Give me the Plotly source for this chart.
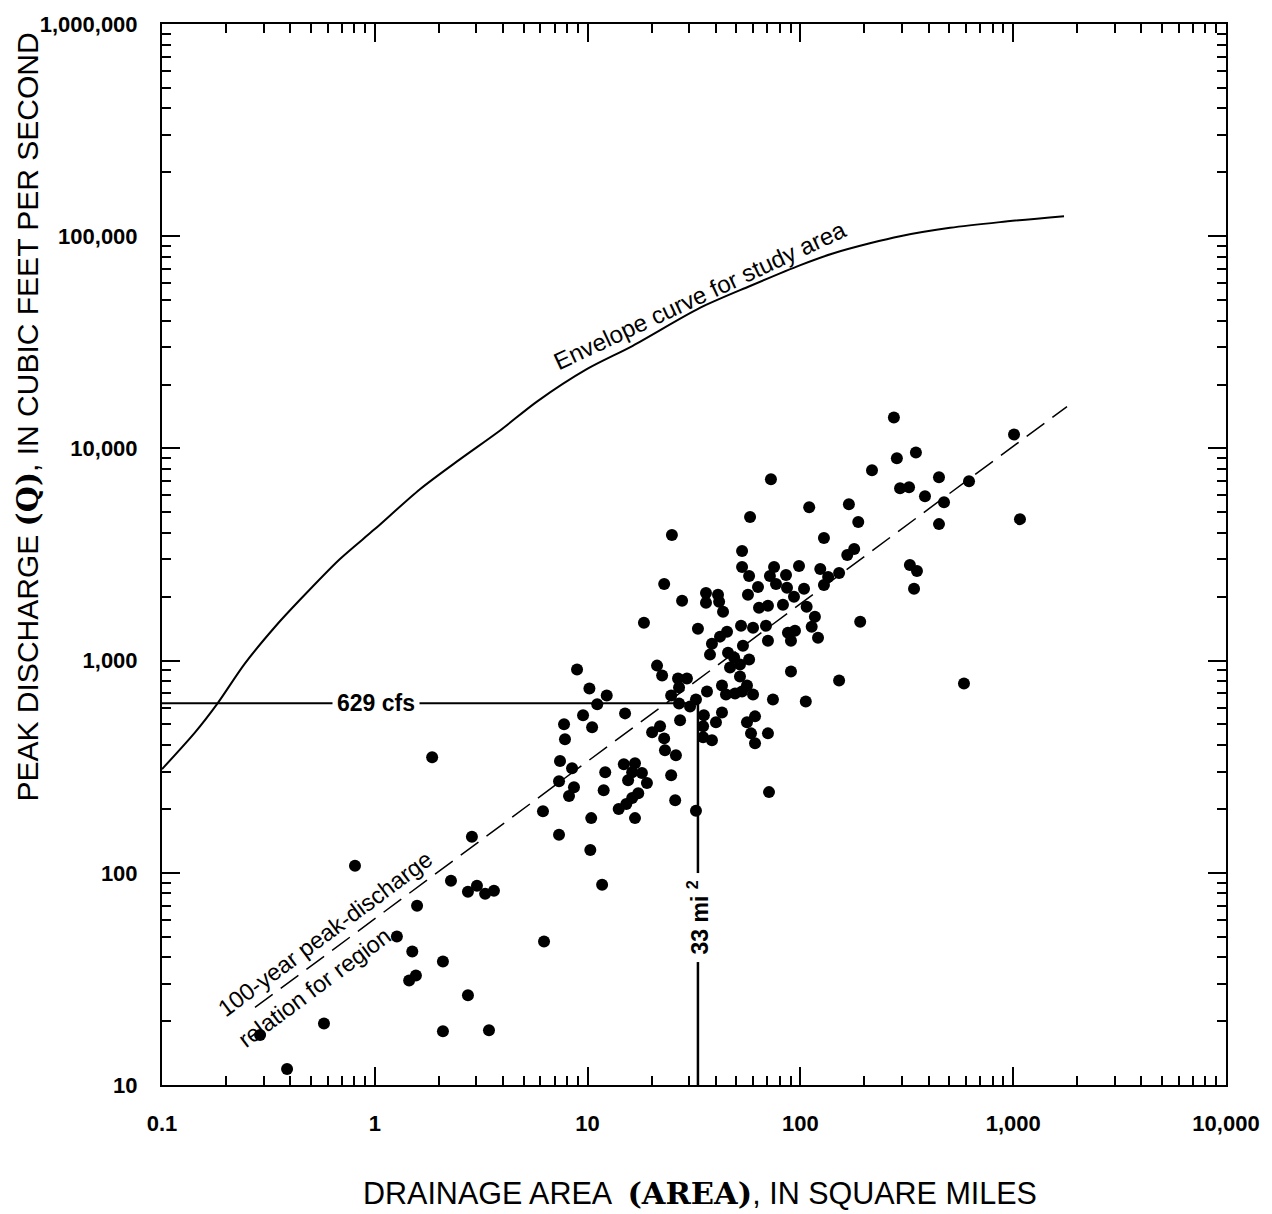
import math
import plotly.graph_objects as go

# ---------------- data ----------------
area = [0.289, 0.387, 0.577, 0.807, 1.27, 1.45, 1.56, 1.50, 1.58, 1.86,
        2.09, 2.09, 2.28, 2.74, 3.02, 3.30, 3.63, 2.86, 2.74, 3.44,
        6.17, 6.24, 10.3, 11.7, 10.2, 12.3, 11.1, 9.52, 7.75, 10.5,
        7.83, 15.0, 24.7, 26.9, 26.9, 30.3, 32.3, 27.2, 21.9, 20.1,
        22.9, 23.1, 26.0, 7.42, 8.45, 12.1, 14.8, 16.7, 16.2, 18.0,
        19.0, 15.5, 24.7, 7.34, 8.63, 8.18, 11.9, 17.3, 16.2, 15.2,
        14.0, 25.8, 10.4, 16.7, 32.3, 7.34, 53.2, 22.9, 53.2, 57.4,
        75.2, 98.5, 71.9, 85.6, 76.8, 63.2, 56.7, 86.5, 104, 93.3,
        27.8, 36.0, 36.0, 41.0, 41.5, 43.3, 63.9, 70.4, 82.8, 107,
        18.4, 33.0, 45.2, 41.9, 52.6, 59.9, 68.9, 87.4, 94.3, 90.3,
        70.4, 38.4, 53.7, 37.6, 45.7, 48.8, 57.4, 52.0, 46.7, 21.2,
        22.4, 52.0, 90.3, 26.6, 29.3, 42.8, 56.1, 36.4, 44.7, 49.3,
        53.2, 59.9, 74.3, 106, 35.2, 42.8, 40.1, 61.2, 56.1, 34.9,
        294, 324, 385, 473, 448, 110, 169, 187, 129, 179,
        166, 124, 135, 152, 129, 117, 113, 121, 191, 327,
        353, 342, 152, 275, 1009, 349, 284, 217, 448, 620,
        1076, 72.7, 58.0, 587, 24.9, 8.92, 71.2, 70.4, 58.6, 61.2,
        34.9, 38.4]
peak = [17.2, 11.9, 19.5, 108, 50.1, 31.1, 32.8, 42.6, 70.0, 350,
        38.2, 17.9, 91.7, 81.4, 86.9, 79.7, 82.3, 148, 26.5, 18.1,
        195, 47.4, 128, 87.8, 739, 685, 622, 552, 501, 485,
        426, 564, 685, 747, 628, 608, 656, 523, 490, 459,
        430, 378, 358, 336, 311, 298, 325, 328, 298, 295,
        265, 273, 288, 270, 253, 230, 245, 237, 225, 211,
        200, 220, 181, 181, 196, 151, 3285, 2298, 2762, 2506,
        2762, 2793, 2506, 2533, 2298, 2225, 2041, 2202, 2178, 1998,
        1913, 2085, 1872, 2041, 1892, 1698, 1774, 1813, 1832, 1793,
        1508, 1413, 1368, 1297, 1460, 1428, 1460, 1354, 1383, 1241,
        1241, 1202, 1176, 1067, 1090, 1033, 1011, 958, 927, 947,
        850, 841, 888, 823, 823, 763, 763, 715, 692, 700,
        715, 692, 656, 642, 552, 570, 512, 546, 512, 490,
        6491, 6562, 5951, 5578, 4397, 5285, 5459, 4494, 3780, 3356,
        3146, 2703, 2479, 2589, 2274, 1609, 1444, 1282, 1524, 2823,
        2646, 2178, 806, 13983, 11633, 9576, 8976, 7883, 7308, 7000,
        4642, 7152, 4745, 780, 3904, 907, 240, 454, 454, 408,
        435, 421]

envelope_area = [0.1, 0.143, 0.181, 0.245, 0.340, 0.445, 0.686, 1.0, 1.63, 2.51,
                 3.88, 5.78, 10, 16.3, 33.7, 58.0, 100, 142, 212, 294,
                 505, 867, 1733]
envelope_peak = [308, 459, 622, 968, 1444, 1934, 3012, 4165, 6421, 8880,
                 12150, 16620, 23750, 30450, 45920, 58250, 73070, 82900, 92600, 100000,
                 109500, 116500, 124300]

regression_area = [0.2735, 1790]
regression_peak = [23.2, 15750]

design_area = 33      # square miles
design_peak = 629     # cfs
axis_min_area = 0.1
axis_min_peak = 10

x_tickvals = [0.1, 1, 10, 100, 1000, 10000]
x_ticktext = ["0.1", "1", "10", "100", "1,000", "10,000"]
y_tickvals = [10, 100, 1000, 10000, 100000, 1000000]
y_ticktext = ["10", "100", "1,000", "10,000", "100,000", "1,000,000"]

# minor ticks at 2..9 of every decade
x_minor = [m * 10.0 ** e for e in range(-1, 4) for m in range(2, 10)]
y_minor = [m * 10.0 ** e for e in range(1, 6) for m in range(2, 10)]

FONT = "Liberation Sans, Arial, Helvetica, sans-serif"

fig = go.Figure()

# envelope curve
fig.add_trace(go.Scatter(x=envelope_area, y=envelope_peak, mode="lines",
                         line=dict(color="black", width=2, shape="spline", smoothing=0.8),
                         hoverinfo="skip"))
# regression line
fig.add_trace(go.Scatter(x=regression_area, y=regression_peak, mode="lines",
                         line=dict(color="black", width=1.5, dash="22px,10px"),
                         hoverinfo="skip"))
# 629 cfs horizontal
fig.add_trace(go.Scatter(x=[axis_min_area, design_area], y=[design_peak, design_peak],
                         mode="lines", line=dict(color="black", width=2), hoverinfo="skip"))
# 33 mi2 vertical
fig.add_trace(go.Scatter(x=[design_area, design_area], y=[design_peak, axis_min_peak],
                         mode="lines", line=dict(color="black", width=2.5), hoverinfo="skip"))
# observed points
fig.add_trace(go.Scatter(x=area, y=peak, mode="markers",
                         marker=dict(size=12, color="black", line=dict(width=0))))

axis_common = dict(
    type="log", showline=True, linecolor="black", linewidth=2, mirror="allticks",
    ticks="inside", ticklen=18, tickwidth=1.5, tickcolor="black",
    showgrid=False, zeroline=False, tickmode="array",
    tickfont=dict(family=FONT, size=22, color="black", weight="bold"),
    ticklabelstandoff=18,
)

fig.update_xaxes(range=[-1, 4], tickvals=x_tickvals, ticktext=x_ticktext,
                 minor=dict(tickmode="array", tickvals=x_minor, ticks="inside",
                            ticklen=9, tickwidth=1.5, tickcolor="black", showgrid=False),
                 **axis_common)
fig.update_yaxes(range=[1, 6], tickvals=y_tickvals, ticktext=y_ticktext,
                 minor=dict(tickmode="array", tickvals=y_minor, ticks="inside",
                            ticklen=9, tickwidth=1.5, tickcolor="black", showgrid=False),
                 **axis_common)

L = math.log10
ann = [
    dict(text="Envelope curve for study area", x=L(33.4), y=L(52800), textangle=-25,
         font=dict(family=FONT, size=24, color="black")),
    dict(text="100-year peak-discharge", x=L(0.583), y=L(51.7), textangle=-36.6,
         font=dict(family=FONT, size=23.5, color="black")),
    dict(text="relation for region", x=L(0.518), y=L(28.8), textangle=-36.6,
         font=dict(family=FONT, size=23.5, color="black")),
    dict(text="629 cfs", x=L(1.01), y=L(design_peak), bgcolor="white", borderpad=4,
         font=dict(family=FONT, size=23, color="black", weight="bold")),
    dict(text="33 mi <sup>2</sup>", x=L(design_area), y=L(61.5), textangle=-90,
         bgcolor="white", borderpad=7,
         font=dict(family=FONT, size=23, color="black", weight="bold")),
]
for a in ann:
    a.update(xref="x", yref="y", showarrow=False, xanchor="center", yanchor="middle")
    fig.add_annotation(**a)

# axis titles as paper annotations
fig.add_annotation(
    text=("PEAK DISCHARGE <span style='font-family:DejaVu Serif'><b>(Q)</b></span>"
          ", IN CUBIC FEET PER SECOND"),
    xref="paper", yref="paper", x=-0.126, y=0.630, textangle=-90, showarrow=False,
    xanchor="center", yanchor="middle", font=dict(family=FONT, size=30, color="black"))
fig.add_annotation(
    text=("DRAINAGE AREA  <span style='font-family:DejaVu Serif'><b>(AREA)</b></span>"
          ", IN SQUARE MILES"),
    xref="paper", yref="paper", x=0.5056, y=-0.1014, showarrow=False,
    xanchor="center", yanchor="middle", font=dict(family=FONT, size=30.5, color="black"))

fig.update_layout(
    width=1272, height=1214,
    margin=dict(l=162, r=46, t=20, b=129),
    plot_bgcolor="white", paper_bgcolor="white",
    showlegend=False,
    font=dict(family=FONT, color="black"),
)

fig.write_html("out.html")
